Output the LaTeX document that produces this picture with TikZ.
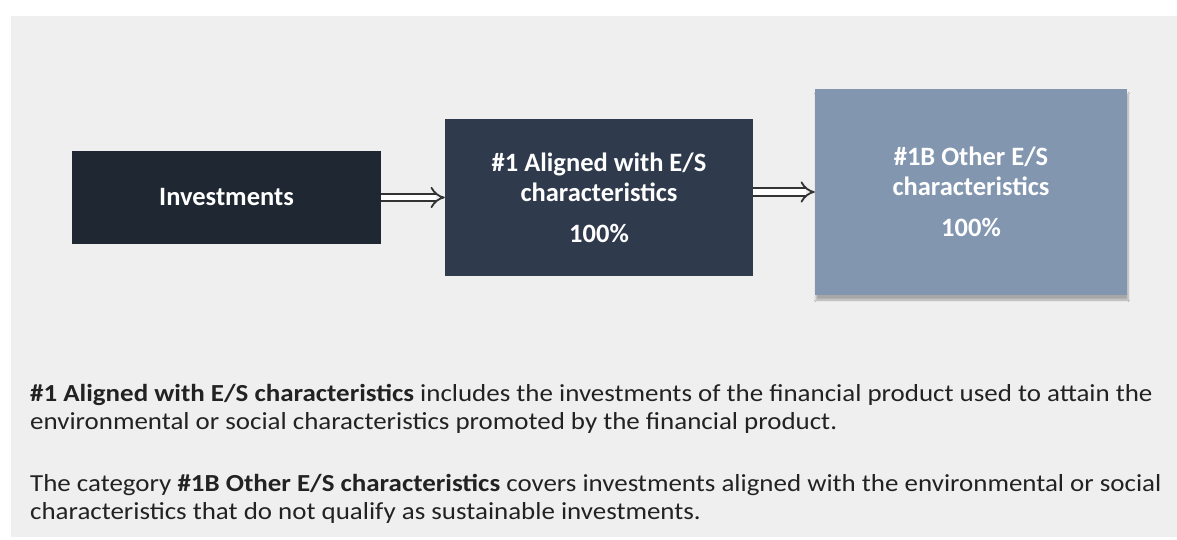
\documentclass[tikz,border=0pt]{standalone}
\usepackage{fontspec}
\setmainfont{Carlito}
\newfontfamily\notafont{Carlito}[FakeStretch=1.1]
\usetikzlibrary{arrows.meta,shadows.blur}

\definecolor{fondo}{HTML}{EFEFEF}
\definecolor{inversion}{HTML}{1F2832}
\definecolor{alineado}{HTML}{2F3A4D}
\definecolor{otras}{HTML}{8296B0}
\definecolor{texto}{HTML}{222222}

\begin{document}
\begin{tikzpicture}[x=1pt,y=-1pt,
    caja/.style={inner sep=0pt, text=white, align=center,
        font=\bfseries\fontsize{26.5}{30}\selectfont},
    flecha/.style={draw=black!80, line width=1.8pt, double=white,
        double distance=5.5pt, -{Implies}},
    nota/.style={anchor=base west, inner sep=0pt, text=texto,
        font=\notafont\fontsize{24.5}{28}\selectfont}]
    % Fondo
    \fill[white] (0,0) rectangle (1177,540);
    \fill[fondo] (11,16) rectangle (1177,537);

    % Cajas
    \node[caja, fill=inversion, minimum width=309pt, minimum height=93pt]
        (inv) at (226.5,197.5) {Investments};
    \node[caja, fill=alineado, minimum width=308pt, minimum height=157pt]
        (al) at (599,197.5) {\#1 Aligned with E/S\\characteristics\\[11pt]100\%};
    \node[caja, fill=otras, minimum width=312pt, minimum height=206pt,
        blur shadow={shadow xshift=1pt, shadow yshift=-5pt, shadow blur steps=6, shadow opacity=30}]
        (ot) at (971,192) {\#1B Other E/S\\characteristics\\[11pt]100\%};

    % Flechas
    \draw[flecha] (inv.east) -- (al.west);
    \draw[flecha] (al.east |- ot.west) -- (ot.west);

    % Textos
    \node[nota] (n1) at (30,401) {\textbf{\#1 Aligned with E/S characteristics} includes the investments of the financial product used to attain the};
    \node[nota] (n2) at (30,429) {environmental or social characteristics promoted by the financial product.};
    \node[nota] (n3) at (30,491) {The category \textbf{\#1B Other E/S characteristics} covers investments aligned with the environmental or social};
    \node[nota] (n4) at (30,519) {characteristics that do not qualify as sustainable investments.};
\end{tikzpicture}
\end{document}
